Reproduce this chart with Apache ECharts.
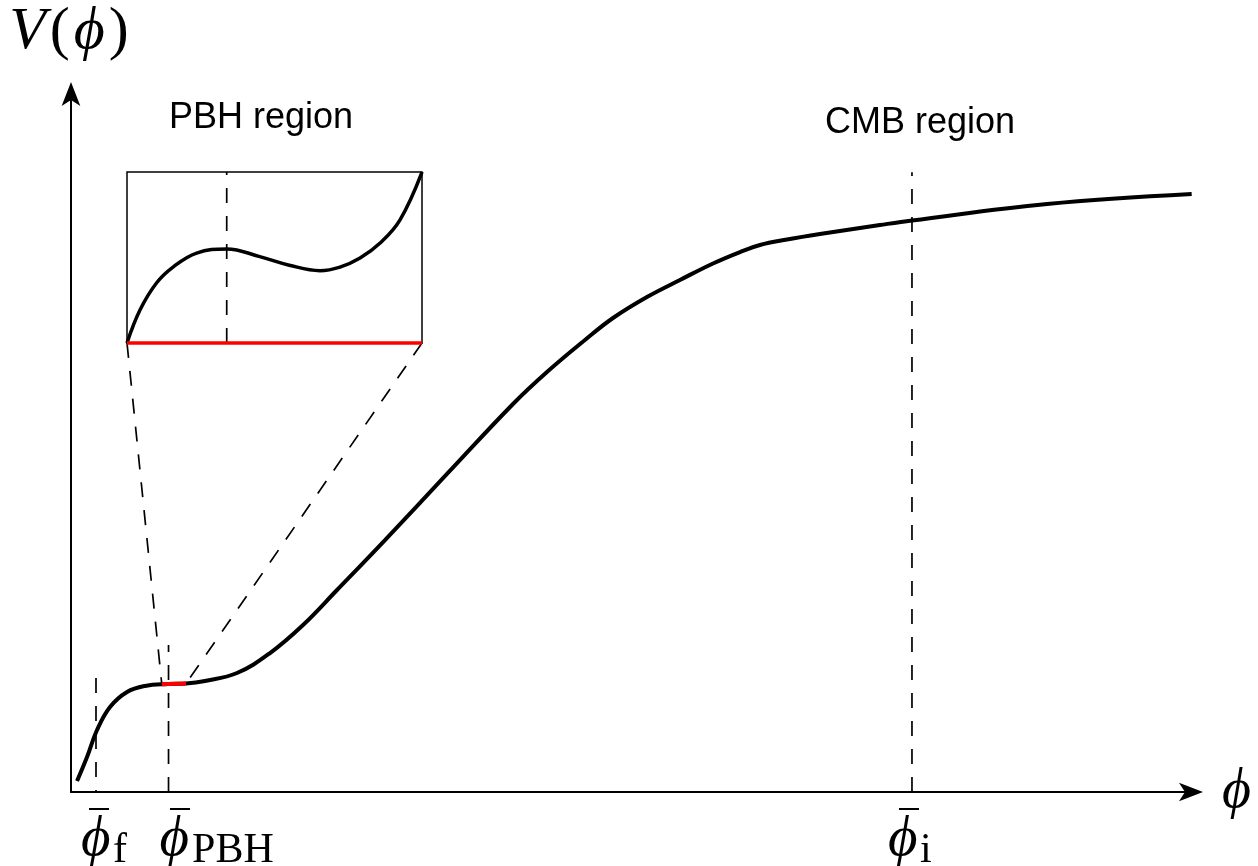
<!DOCTYPE html>
<html><head><meta charset="utf-8">
<script src="https://cdn.jsdelivr.net/npm/echarts@6/dist/echarts.min.js"></script>
<style>html,body{margin:0;padding:0;background:#fff}#c{width:1258px;height:866px}</style>
</head><body><div id="c"></div>
<script>
// ---- data ----
const mainCurve = [
  [0.054,0.158],[0.143,0.501],[0.232,0.888],[0.348,1.218],[0.500,1.433],[0.660,1.519],
  [0.865,1.547],[1.026,1.554],[1.195,1.590],[1.481,1.705],[1.775,1.991],[2.070,2.393],
  [2.373,2.894],[2.801,3.610],[3.354,4.556],[3.943,5.559],[4.246,6.017],[4.585,6.476],
  [4.835,6.791],[5.138,7.092],[5.432,7.335],[5.727,7.572],[5.968,7.736],[6.146,7.837],
  [6.387,7.915],[6.681,7.994],[7.216,8.123],[7.502,8.188],[8.707,8.424],[9.997,8.567]
];
const pbhSegment = [[0.81,1.543],[0.865,1.547],[1.026,1.554]];
const insetCurve = [
  [0,0],[0.044,0.193],[0.10,0.351],[0.156,0.444],[0.236,0.526],[0.338,0.550],[0.45,0.505],
  [0.55,0.455],[0.654,0.423],[0.722,0.444],[0.790,0.497],[0.858,0.585],[0.925,0.719],[1.0,1.0]
];
const insetBase = [[0,0],[1,0]];
const insetPeak = 0.338;
const markerNames = ['f','PBH','i'];
const markerPhi = [0.223, 0.870, 7.502];
const markerTop = [1.633, 2.106, 8.88];
const regionLabels = ['PBH region','CMB region'];

// ---- chart ----
const serif = "'Liberation Serif','DejaVu Serif',serif";
const sans = "'Liberation Sans',Arial,sans-serif";
const chart = echarts.init(document.getElementById('c'), null, {renderer:'canvas'});
const phiDx = [-15, -9, -24];
const subDx = [17, 23.5, 8];
const barDx = [3, 11.5, -3];
const dashFromTop = [true, false, false];

const hiddenAxis = (g) => ({type:'value', gridIndex:g, min:0, max:1, show:false});
const pointLabelSeries = (items, labelCfg) => ({
  type:'scatter', xAxisIndex:0, yAxisIndex:0, symbol:'circle', symbolSize:1,
  itemStyle:{color:'rgba(255,255,255,0)', opacity:1}, silent:true, z:6, data:items,
  label:Object.assign({show:true, position:'bottom', distance:0, align:'left', verticalAlign:'middle', color:'#000', opacity:1}, labelCfg)
});

const series = [];
series.push({type:'line', id:'main', xAxisIndex:0, yAxisIndex:0, data:mainCurve, smooth:0.4,
  symbol:'none', lineStyle:{color:'#000', width:4}, z:3, silent:true});
series.push({type:'line', xAxisIndex:0, yAxisIndex:0, data:pbhSegment, symbol:'none',
  lineStyle:{color:'#ff0000', width:4}, z:4, silent:true});
markerPhi.forEach((x,i)=>{
  const seg = [[x,0],[x,markerTop[i]]];
  series.push({type:'line', xAxisIndex:0, yAxisIndex:0, data: dashFromTop[i] ? seg.reverse() : seg, symbol:'none',
    lineStyle:{color:'#000', width:1.7, type:[15,13]}, z:2, silent:true});
});
// tick labels: phi glyph and subscript
series.push(pointLabelSeries(
  markerPhi.map((x,i)=>({value:[x,0], label:{offset:[phiDx[i], 48]}})),
  {formatter:'ϕ', fontFamily:serif, fontStyle:'italic', fontSize:57}));
series.push(pointLabelSeries(
  markerPhi.map((x,i)=>({value:[x,0], name:markerNames[i], label:{offset:[subDx[i], 58]}})),
  {formatter:'{b}', fontFamily:serif, fontSize:42}));
series.push({type:'scatter', xAxisIndex:0, yAxisIndex:0, symbol:'rect', silent:true, z:5,
  data: markerPhi.map((x,i)=>({value:[x,0], symbolOffset:[barDx[i],17]})),
  symbolSize:[20,2], itemStyle:{color:'#000', opacity:1}});
// inset
series.push({type:'line', xAxisIndex:1, yAxisIndex:1, data:insetCurve, smooth:0.4,
  symbol:'none', lineStyle:{color:'#000', width:3.5}, z:3, clip:false, silent:true});
series.push({type:'line', xAxisIndex:1, yAxisIndex:1, data:[[insetPeak,0],[insetPeak,1]], symbol:'none',
  lineStyle:{color:'#000', width:1.7, type:[15,13]}, z:2, silent:true});
series.push({type:'line', xAxisIndex:1, yAxisIndex:1, data:insetBase, symbol:'none',
  lineStyle:{color:'#ff0000', width:3.5}, z:4, clip:false, silent:true});
// connectors (filled in after layout)
series.push({type:'line', id:'connL', xAxisIndex:0, yAxisIndex:0, data:[], symbol:'none',
  lineStyle:{color:'#000', width:1.7, type:[15,13]}, z:2, silent:true});
series.push({type:'line', id:'connR', xAxisIndex:0, yAxisIndex:0, data:[], symbol:'none',
  lineStyle:{color:'#000', width:1.7, type:[15,13]}, z:2, silent:true});

const option = {
  animation:false,
  backgroundColor:'#fff',
  grid:[
    {left:71, right:66, top:94, bottom:74},
    {left:127, top:172, width:295, height:171, show:true, borderColor:'#000', borderWidth:1.5, backgroundColor:'transparent', z:1}
  ],
  xAxis:[
    {type:'value', gridIndex:0, min:0, max:10,
      axisLine:{show:true, onZero:false, lineStyle:{color:'#000', width:2}, symbol:['none','arrow'], symbolSize:[14,24], symbolOffset:[0,11]},
      axisTick:{show:false}, axisLabel:{show:false}, splitLine:{show:false},
      name:'ϕ', nameLocation:'end', nameGap:30,
      nameTextStyle:{fontFamily:serif, fontStyle:'italic', fontSize:56, color:'#000', verticalAlign:'middle'}},
    hiddenAxis(1)
  ],
  yAxis:[
    {type:'value', gridIndex:0, min:0, max:10,
      axisLine:{show:true, onZero:false, lineStyle:{color:'#000', width:2}, symbol:['none','arrow'], symbolSize:[14,24], symbolOffset:[0,12]},
      axisTick:{show:false}, axisLabel:{show:false}, splitLine:{show:false},
      name:'{it|V}{up|(}{it|ϕ}{up|)}', nameLocation:'end', nameGap:32,
      nameTextStyle:{align:'center', padding:[0,6,0,0], rich:{
        it:{fontFamily:serif, fontStyle:'italic', fontSize:60, color:'#000', padding:[0,3,0,3]},
        up:{fontFamily:serif, fontSize:60, color:'#000', padding:[0,1,0,1]}
      }}},
    hiddenAxis(1)
  ],
  graphic:[
    {type:'text', x:261, y:118, style:{text:regionLabels[0], font:'36px '+sans, fill:'#000', textAlign:'center', textVerticalAlign:'middle'}},
    {type:'text', x:920, y:123, style:{text:regionLabels[1], font:'36px '+sans, fill:'#000', textAlign:'center', textVerticalAlign:'middle'}}
  ],
  series: series
};
chart.setOption(option);

// connectors: from the inset's bottom corners to the ends of the PBH segment on the main curve
const cornerL = chart.convertFromPixel({gridIndex:0}, chart.convertToPixel({gridIndex:1}, insetBase[0]));
const cornerR = chart.convertFromPixel({gridIndex:0}, chart.convertToPixel({gridIndex:1}, insetBase[1]));
chart.setOption({series:[
  {id:'connL', data:[cornerL, pbhSegment[0]]},
  {id:'connR', data:[cornerR, pbhSegment[pbhSegment.length-1]]}
]});
</script>
</body></html>
